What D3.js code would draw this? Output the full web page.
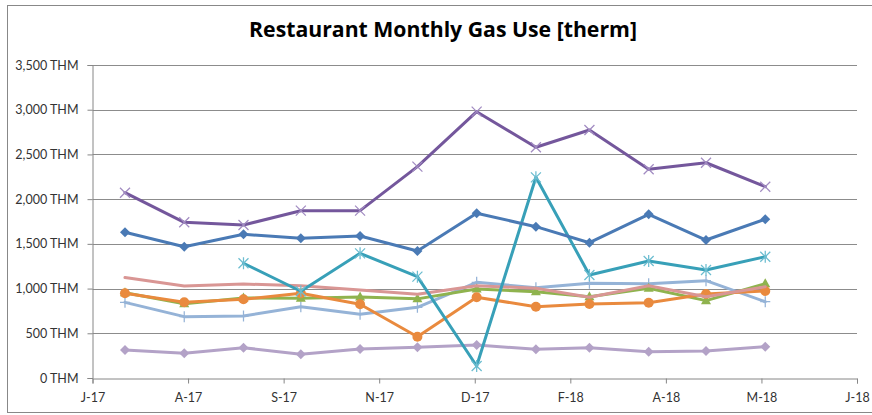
<!DOCTYPE html>
<html>
<head>
<meta charset="utf-8">
<script src="https://cdn.jsdelivr.net/npm/d3@7"></script>
<style>
    body { margin: 0; background: #fff; }
    svg { display: block; }
    .tick text { font-family: Lato, "Open Sans", sans-serif; font-size: 12.5px; fill: #333; }
    .title { font-family: "Open Sans", Lato, sans-serif; font-weight: bold; fill: #000; }
</style>
</head>
<body>
<svg id="chart" width="872" height="415"></svg>
<script>
    // months of data (first of each month)
    const months = [
        "2017-07-01", "2017-08-01", "2017-09-01", "2017-10-01", "2017-11-01", "2017-12-01",
        "2018-01-01", "2018-02-01", "2018-03-01", "2018-04-01", "2018-05-01", "2018-06-01"
    ];

    const seriesBlue = [1629, 1468, 1607, 1562, 1588, 1420, 1842, 1692, 1513, 1830, 1543, 1775];
    const seriesPink = [1123, 1029, 1051, 1032, 984, 936, 1032, 1003, 902, 1032, 909, 1021];
    const seriesGreen = [954, 830, 895, 891, 905, 885, 995, 965, 909, 1003, 865, 1055];
    const seriesPurple = [2072, 1741, 1711, 1871, 1871, 2363, 2978, 2580, 2773, 2334, 2407, 2139];
    const seriesTeal = [null, null, 1283, 970, 1394, 1133, 134, 2244, 1152, 1308, 1208, 1356];
    const seriesOrange = [947, 848, 880, 947, 824, 462, 902, 797, 827, 842, 939, 973];
    const seriesLightBlue = [846, 686, 693, 797, 712, 790, 1070, 1010, 1059, 1055, 1088, 853];
    const seriesLavender = [313, 276, 339, 265, 324, 343, 369, 321, 339, 294, 302, 350];

    // excel date axis, major unit 50 days
    const xTicks = [
        "2017-06-14", "2017-08-03", "2017-09-22", "2017-11-11", "2017-12-31",
        "2018-02-19", "2018-04-10", "2018-05-30", "2018-07-19"
    ];
    const yTicks = [0, 500, 1000, 1500, 2000, 2500, 3000, 3500];

    const title = "Restaurant Monthly Gas Use [therm]";

    const parse = d3.utcParse("%Y-%m-%d");

    const series = [
        {values: seriesLavender, color: "#b3a2c7", marker: "diamond", mColor: "#b3a2c7"},
        {values: seriesLightBlue, color: "#95b3d7", marker: "plus", mColor: "#95b3d7"},
        {values: seriesGreen, color: "#8fb34e", marker: "triangle", mColor: "#8fb34e"},
        {values: seriesOrange, color: "#e98a3e", marker: "circle", mColor: "#e98a3e"},
        {values: seriesPink, color: "#d99694", marker: null},
        {values: seriesTeal, color: "#38a0b8", marker: "star", mColor: "#6cbdd0"},
        {values: seriesBlue, color: "#4a7ab5", marker: "diamond", mColor: "#4a7ab5"},
        {values: seriesPurple, color: "#74579c", marker: "x", mColor: "#a28cc2"},
    ];

    const svg = d3.select("#chart");

    const x = d3.scaleUtc()
        .domain([parse(xTicks[0]), parse(xTicks[xTicks.length - 1])])
        .range([92.5, 857]);

    const y = d3.scaleLinear()
        .domain([0, 3500])
        .range([378, 65]);

    // chart frame
    svg.append("rect")
        .attr("x", 7.5)
        .attr("y", 5.5)
        .attr("width", 872)
        .attr("height", 407)
        .attr("fill", "none")
        .attr("stroke", "#888");

    const titleText = svg.append("text")
        .attr("class", "title")
        .attr("x", 443)
        .attr("y", 37)
        .attr("text-anchor", "middle")
        .style("font-size", "18px")
        .text(title);

    // fit the title to the width it has in the original (~388px)
    const tw = titleText.node().getComputedTextLength();
    titleText.style("font-size", (18 * 388 / tw).toFixed(2) + "px");

    // gridlines
    svg.append("g")
        .selectAll("line")
        .data(yTicks.filter(d => d > 0))
        .join("line")
        .attr("x1", x.range()[0])
        .attr("x2", x.range()[1])
        .attr("y1", d => Math.round(y(d)) + 0.5)
        .attr("y2", d => Math.round(y(d)) + 0.5)
        .attr("stroke", "#8c8c8c")
        .attr("stroke-width", 1);

    const yAxis = svg.append("g")
        .attr("transform", "translate(92.5,0)")
        .call(
            d3.axisLeft(y)
            .tickValues(yTicks)
            .tickSize(5)
            .tickPadding(9)
            .tickFormat(d => d3.format(",")(d) + " THM")
        );

    const xAxis = svg.append("g")
        .attr("transform", "translate(0,378.5)")
        .call(
            d3.axisBottom(x)
            .tickValues(xTicks.map(parse))
            .tickSize(5)
            .tickPadding(10)
            .tickFormat(d => d3.utcFormat("%b")(d)[0] + "-" + d3.utcFormat("%y")(d))
        );

    [yAxis, xAxis].forEach(ax => {
        ax.selectAll(".domain, .tick line").attr("stroke", "#868686");
    });

    const line = d3.line()
        .defined(d => d.v !== null)
        .x(d => x(d.date))
        .y(d => y(d.v));

    const symbols = {
        diamond: "M0,-5L5,0L0,5L-5,0Z",
        triangle: "M0,-5.5L5,3.5L-5,3.5Z",
        x: "M-5,-5L5,5M-5,5L5,-5",
        plus: "M-5,0L5,0M0,-5.5L0,5.5",
        star: "M-5,-5L5,5M-5,5L5,-5M0,-6L0,6",
    };

    series.forEach(s => {
        const pts = s.values.map((v, i) => ({date: parse(months[i]), v}));
        const g = svg.append("g");

        g.append("path")
            .datum(pts)
            .attr("d", line)
            .attr("fill", "none")
            .attr("stroke", s.color)
            .attr("stroke-width", 3)
            .attr("stroke-linejoin", "round")
            .attr("stroke-linecap", "round");

        if (!s.marker) return;

        const m = g.selectAll(".m")
            .data(pts.filter(d => d.v !== null))
            .join(s.marker === "circle" ? "circle" : "path")
            .attr("class", "m")
            .attr("transform", d => `translate(${x(d.date)},${y(d.v)})`);

        if (s.marker === "circle") {
            m.attr("r", 5).attr("fill", s.mColor);
        } else if (s.marker === "diamond" || s.marker === "triangle") {
            m.attr("d", symbols[s.marker]).attr("fill", s.mColor);
        } else {
            m.attr("d", symbols[s.marker])
                .attr("fill", "none")
                .attr("stroke", s.mColor)
                .attr("stroke-width", 1.25);
        }
    });
</script>
</body>
</html>
